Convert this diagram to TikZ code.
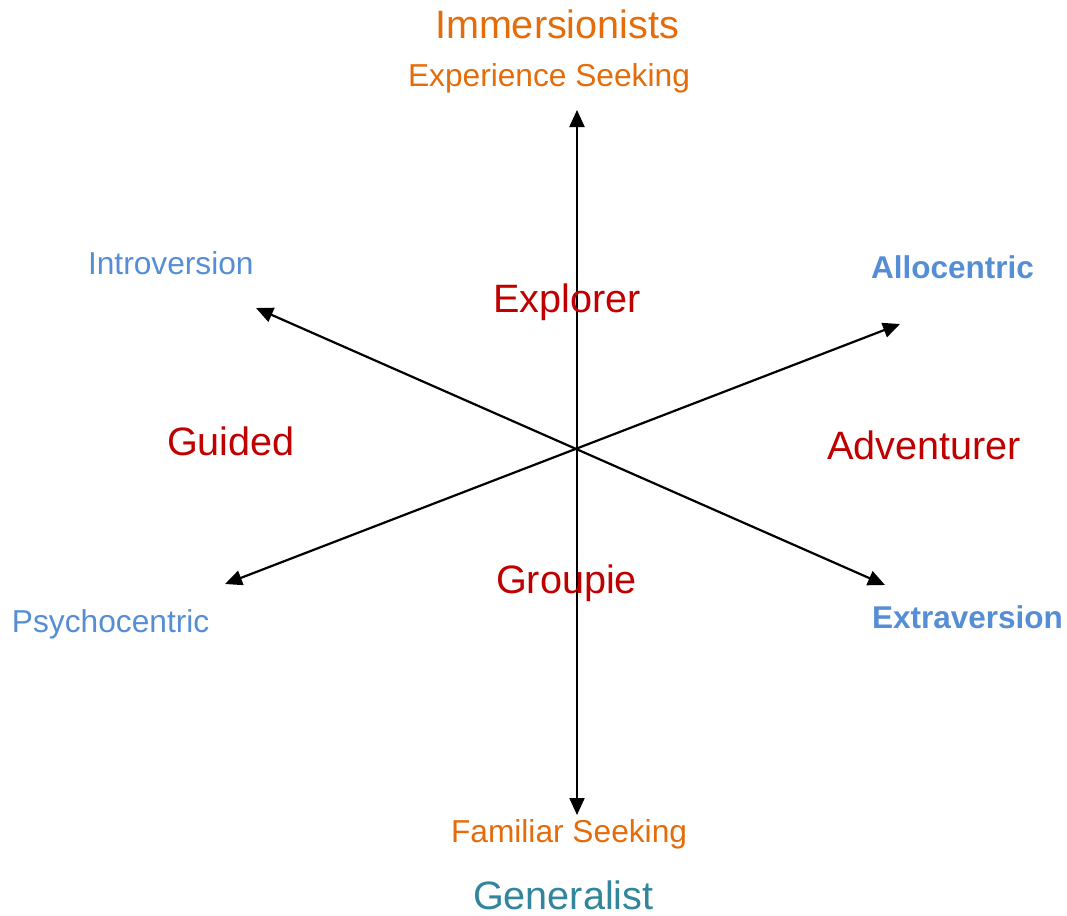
\documentclass[tikz,border=0pt]{standalone}
\usepackage{fontspec}
\setmainfont{Liberation Sans}
\usetikzlibrary{arrows.meta}
\definecolor{orangeT}{HTML}{E46C0A}
\definecolor{blueT}{HTML}{558ED5}
\definecolor{redT}{HTML}{C00000}
\definecolor{tealT}{HTML}{31859C}
\begin{document}
\begin{tikzpicture}[x=1pt,y=-1pt,
  axisline/.style={line width=2.2pt, draw=black, {Triangle[length=17pt,width=15pt]}-{Triangle[length=17pt,width=15pt]}},
  lbl/.style={anchor=base west, inner sep=0pt, outer sep=0pt},
  big/.style={lbl, font=\fontsize{39.6}{47}\selectfont},
  small/.style={lbl, font=\fontsize{31.7}{38}\selectfont},
  smallbold/.style={lbl, font=\fontsize{31.5}{38}\selectfont\bfseries}]
\useasboundingbox (0,0) rectangle (1067,915);
\coordinate (c) at (577,449);
\coordinate (top) at (577,110);
\coordinate (bot) at (577,815);
\coordinate (ul) at (256,308);
\coordinate (lr) at (885,585);
\coordinate (ur) at (900,324);
\coordinate (ll) at (225,584);
\draw[axisline] (bot) -- (top);
\draw[axisline] (ul) -- (lr);
\draw[axisline] (ll) -- (ur);
\node[big, text=orangeT] (imm) at (435,39) {Immersionists};
\node[small, text=orangeT] (exps) at (408,87) {Experience Seeking};
\node[small, text=orangeT] (fams) at (451,842) {Familiar Seeking};
\node[big, text=tealT] (gen) at (473,909) {Generalist};
\node[small, text=blueT] (intro) at (88,274) {Introversion};
\node[smallbold, text=blueT] (allo) at (871,278) {Allocentric};
\node[small, text=blueT] (psy) at (12,632) {Psychocentric};
\node[smallbold, text=blueT] (extra) at (872,628) {Extraversion};
\node[big, text=redT] (expl) at (493,312) {Explorer};
\node[big, text=redT] (guid) at (167,455) {Guided};
\node[big, text=redT] (adv) at (827,459) {Adventurer};
\node[big, text=redT] (grp) at (496,593) {Groupie};
\end{tikzpicture}
\end{document}
